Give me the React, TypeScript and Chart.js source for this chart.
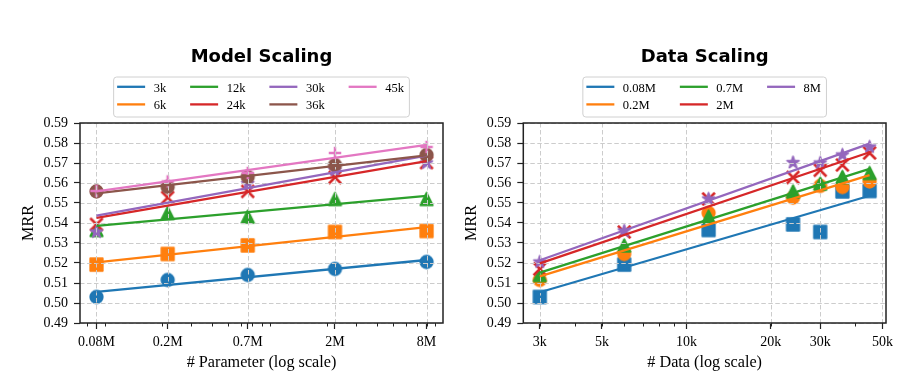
import React, { useEffect, useRef } from "react";
import { Chart, registerables } from "chart.js";
Chart.register(...registerables);

// ---------- data ----------
const paramLabels = ["0.08M", "0.2M", "0.7M", "2M", "8M"];
const paramCounts = [80e3, 216e3, 660e3, 2.23e6, 8e6];
const paramMinorTicks = [7e4, 8e4, 9e4, 2e5, 3e5, 4e5, 5e5, 6e5, 7e5, 8e5, 9e5, 2e6, 3e6, 4e6, 5e6, 6e6, 7e6, 8e6, 9e6];
const paramAxisMin = 63.55e3;
const paramAxisMax = 10.07e6;

const dataLabels = ["3k", "6k", "12k", "24k", "30k", "36k", "45k"];
const dataCounts = [3e3, 6e3, 12e3, 24e3, 30e3, 36e3, 45e3];
const dataTickValues = [3e3, 5e3, 10e3, 20e3, 30e3, 50e3];
const dataTickLabels = ["3k", "5k", "10k", "20k", "30k", "50k"];
const dataMinorTicks = [3e3, 4e3, 5e3, 6e3, 7e3, 8e3, 9e3, 2e4, 3e4, 4e4, 5e4];
const dataAxisMin = 2.62e3;
const dataAxisMax = 51.5e3;

const yTickValues = [0.49, 0.5, 0.51, 0.52, 0.53, 0.54, 0.55, 0.56, 0.57, 0.58, 0.59];

// MRR for each training-data size, across parameter sizes (0.08M, 0.2M, 0.7M, 2M, 8M)
const mrr3k = [0.503, 0.5115, 0.514, 0.517, 0.5205];
const mrr6k = [0.5192, 0.5245, 0.5288, 0.5355, 0.536];
const mrr12k = [0.5365, 0.545, 0.5432, 0.552, 0.552];
const mrr24k = [0.5393, 0.5527, 0.5558, 0.5628, 0.5702];
const mrr30k = [0.5355, 0.5585, 0.5597, 0.5664, 0.57];
const mrr36k = [0.5558, 0.558, 0.563, 0.569, 0.574];
const mrr45k = [0.556, 0.5608, 0.565, 0.575, 0.578];

const mrrByData = [mrr3k, mrr6k, mrr12k, mrr24k, mrr30k, mrr36k, mrr45k];
const mrrByParam = paramLabels.map((_, p) => mrrByData.map((row) => row[p]));

const tab10 = ["#1f77b4", "#ff7f0e", "#2ca02c", "#d62728", "#9467bd", "#8c564b", "#e377c2"];
const modelMarkers = ["circle", "square", "triangle", "x", "star", "circle", "plus"];
const dataMarkers = ["square", "circle", "triangle", "x", "star"];

// ---------- helpers ----------
const SERIF = '"Liberation Serif", "Times New Roman", serif';
const SANS = '"DejaVu Sans", sans-serif';
const INK = "#222222";

function makeMarker(shape: string, color: string): HTMLCanvasElement {
  const S = 12.5;
  const lw = shape === "x" || shape === "plus" ? 2.5 : 1.8;
  const dim = Math.ceil(S + lw * 2 + 2);
  const c = document.createElement("canvas");
  c.width = dim;
  c.height = dim;
  const ctx = c.getContext("2d")!;
  const cx = dim / 2, cy = dim / 2, h = S / 2;
  ctx.fillStyle = color;
  ctx.strokeStyle = color;
  ctx.lineWidth = lw;
  ctx.lineJoin = "round";
  ctx.beginPath();
  if (shape === "circle") {
    ctx.arc(cx, cy, h, 0, Math.PI * 2);
    ctx.fill();
    ctx.stroke();
  } else if (shape === "square") {
    ctx.rect(cx - h, cy - h, S, S);
    ctx.fill();
    ctx.stroke();
  } else if (shape === "triangle") {
    ctx.moveTo(cx, cy - h);
    ctx.lineTo(cx - h, cy + h);
    ctx.lineTo(cx + h, cy + h);
    ctx.closePath();
    ctx.fill();
    ctx.stroke();
  } else if (shape === "star") {
    const ri = h * 0.381966;
    for (let k = 0; k < 10; k++) {
      const r = k % 2 === 0 ? h : ri;
      const a = -Math.PI / 2 + (k * Math.PI) / 5;
      const px = cx + r * Math.cos(a), py = cy + r * Math.sin(a);
      if (k === 0) ctx.moveTo(px, py);
      else ctx.lineTo(px, py);
    }
    ctx.closePath();
    ctx.fill();
    ctx.stroke();
  } else if (shape === "x") {
    ctx.moveTo(cx - h, cy - h);
    ctx.lineTo(cx + h, cy + h);
    ctx.moveTo(cx + h, cy - h);
    ctx.lineTo(cx - h, cy + h);
    ctx.stroke();
  } else if (shape === "plus") {
    ctx.moveTo(cx - h, cy);
    ctx.lineTo(cx + h, cy);
    ctx.moveTo(cx, cy - h);
    ctx.lineTo(cx, cy + h);
    ctx.stroke();
  }
  return c;
}

function fitLine(xs: number[], ys: number[]) {
  const lx = xs.map((x) => Math.log10(x));
  const n = lx.length;
  const mx = lx.reduce((a, b) => a + b, 0) / n;
  const my = ys.reduce((a, b) => a + b, 0) / n;
  let sxy = 0, sxx = 0;
  for (let i = 0; i < n; i++) {
    sxy += (lx[i] - mx) * (ys[i] - my);
    sxx += (lx[i] - mx) * (lx[i] - mx);
  }
  const slope = sxy / sxx;
  const b = my - slope * mx;
  return [
    { x: xs[0], y: b + slope * lx[0] },
    { x: xs[n - 1], y: b + slope * lx[n - 1] },
  ];
}

type PanelCfg = {
  title: string;
  xTitle: string;
  labels: string[];
  series: number[][];
  xs: number[];
  markers: string[];
  xMin: number;
  xMax: number;
  xTicks: number[];
  xTickLabels: string[];
  xMinor: number[];
  yAxisWidth: number;
  padRight: number;
  ncol: number;
};

function buildConfig(cfg: PanelCfg): any {
  const datasets: any[] = [];
  cfg.series.forEach((ys, i) => {
    datasets.push({
      type: "scatter",
      label: cfg.labels[i],
      data: cfg.xs.map((x, j) => ({ x, y: ys[j] })),
      pointStyle: makeMarker(cfg.markers[i], tab10[i]),
      pointRadius: 7,
      pointHoverRadius: 7,
      showLine: false,
      order: 100 - i,
      isFit: false,
    });
  });
  cfg.series.forEach((ys, i) => {
    datasets.push({
      type: "line",
      label: cfg.labels[i],
      data: fitLine(cfg.xs, ys),
      borderColor: tab10[i],
      borderWidth: 2.3,
      pointRadius: 0,
      pointHoverRadius: 0,
      fill: false,
      tension: 0,
      order: 50 - i,
      isFit: true,
    });
  });

  const decor = {
    id: "decor",
    beforeDatasetsDraw(chart: any) {
      chart._gridDone = false;
    },
    beforeDatasetDraw(chart: any, args: any) {
      const ds: any = chart.data.datasets[args.index];
      if (ds.isFit && !chart._gridDone) {
        chart._gridDone = true;
        const ctx = chart.ctx, ca = chart.chartArea;
        const xs = chart.scales.x, ys = chart.scales.y;
        ctx.save();
        ctx.strokeStyle = "#cccccc";
        ctx.lineWidth = 1;
        ctx.setLineDash([4.5, 2.5]);
        cfg.xTicks.forEach((v) => {
          const px = Math.round(xs.getPixelForValue(v)) + 0.5;
          ctx.beginPath();
          ctx.moveTo(px, ca.top);
          ctx.lineTo(px, ca.bottom);
          ctx.stroke();
        });
        yTickValues.forEach((v) => {
          const py = Math.round(ys.getPixelForValue(v)) + 0.5;
          ctx.beginPath();
          ctx.moveTo(ca.left, py);
          ctx.lineTo(ca.right, py);
          ctx.stroke();
        });
        ctx.restore();
      }
    },
    afterDraw(chart: any) {
      const ctx = chart.ctx, ca = chart.chartArea;
      const xs = chart.scales.x;
      ctx.save();
      // frame
      ctx.strokeStyle = INK;
      ctx.lineWidth = 1.5;
      ctx.strokeRect(ca.left, ca.top, ca.right - ca.left, ca.bottom - ca.top);
      // minor ticks
      ctx.lineWidth = 1;
      cfg.xMinor.forEach((v) => {
        if (v < cfg.xMin || v > cfg.xMax) return;
        const px = Math.round(xs.getPixelForValue(v)) + 0.5;
        ctx.beginPath();
        ctx.moveTo(px, ca.bottom);
        ctx.lineTo(px, ca.bottom + 3.5);
        ctx.stroke();
      });
      const cx = (ca.left + ca.right) / 2;
      const cy = (ca.top + ca.bottom) / 2;
      // title
      ctx.fillStyle = "#000";
      ctx.font = `bold 18px ${SANS}`;
      ctx.textAlign = "center";
      ctx.textBaseline = "alphabetic";
      ctx.fillText(cfg.title, cx, 61.7);
      // x title
      ctx.font = `16.2px ${SERIF}`;
      ctx.fillText(cfg.xTitle, cx, 366.5);
      // y title
      ctx.save();
      ctx.translate(ca.left - 47.1, cy);
      ctx.rotate(-Math.PI / 2);
      ctx.fillText("MRR", 0, 0);
      ctx.restore();
      // legend
      ctx.font = `12.5px ${SERIF}`;
      const n = cfg.labels.length;
      const nrows = Math.ceil(n / cfg.ncol);
      const handleLen = 28, handleGap = 8.5, colSpacing = 24, padL = 3.5, padR = 5.5;
      const colW: number[] = [];
      for (let c = 0; c < cfg.ncol; c++) {
        const items = cfg.labels.slice(c * nrows, (c + 1) * nrows);
        const w = Math.max(...items.map((t) => ctx.measureText(t).width));
        colW.push(handleLen + handleGap + w);
      }
      const total = padL + colW.reduce((a, b) => a + b, 0) + (cfg.ncol - 1) * colSpacing + padR;
      const bx = cx - total / 2, by = 77, bh = 40;
      ctx.beginPath();
      ctx.roundRect(bx, by, total, bh, 3);
      ctx.fillStyle = "rgba(255,255,255,0.85)";
      ctx.fill();
      ctx.strokeStyle = "#d0d0d0";
      ctx.lineWidth = 1;
      ctx.stroke();
      const rowY = [86.8, 104.4];
      let x0 = bx + padL;
      for (let c = 0; c < cfg.ncol; c++) {
        for (let r = 0; r < nrows; r++) {
          const k = c * nrows + r;
          if (k >= n) break;
          const y = rowY[r];
          ctx.strokeStyle = tab10[k];
          ctx.lineWidth = 2.3;
          ctx.beginPath();
          ctx.moveTo(x0, y);
          ctx.lineTo(x0 + handleLen, y);
          ctx.stroke();
          ctx.fillStyle = "#000";
          ctx.textAlign = "left";
          ctx.fillText(cfg.labels[k], x0 + handleLen + handleGap, y + 4.7);
        }
        x0 += colW[c] + colSpacing;
      }
      ctx.restore();
    },
  };

  return {
    type: "scatter",
    data: { datasets },
    plugins: [decor],
    options: {
      responsive: false,
      animation: false,
      events: [],
      layout: { padding: { top: 123, left: 0, right: cfg.padRight, bottom: 0 } },
      plugins: { legend: { display: false }, title: { display: false }, tooltip: { enabled: false } },
      scales: {
        x: {
          type: "logarithmic",
          bounds: "data",
          min: cfg.xMin,
          max: cfg.xMax,
          afterBuildTicks: (s: any) => {
            s.ticks = cfg.xTicks.map((v) => ({ value: v }));
          },
          afterFit: (s: any) => {
            s.height = 69;
          },
          ticks: {
            callback: (_v: any, i: number) => cfg.xTickLabels[i],
            font: { family: SERIF, size: 14 },
            color: "#000",
            maxRotation: 0,
            minRotation: 0,
            autoSkip: false,
            padding: 5,
          },
          grid: { drawOnChartArea: false, drawTicks: true, tickLength: 6, tickColor: INK, tickWidth: 1.2 },
          border: { display: false },
        },
        y: {
          type: "linear",
          min: 0.49,
          max: 0.59,
          afterBuildTicks: (s: any) => {
            s.ticks = yTickValues.map((v) => ({ value: v }));
          },
          afterFit: (s: any) => {
            s.width = cfg.yAxisWidth;
          },
          ticks: {
            callback: (v: any) => Number(v).toFixed(2),
            font: { family: SERIF, size: 14 },
            color: "#000",
            padding: 6,
          },
          grid: { drawOnChartArea: false, drawTicks: true, tickLength: 6, tickColor: INK, tickWidth: 1.2 },
          border: { display: false },
        },
      },
    },
  };
}

const modelCfg: PanelCfg = {
  title: "Model Scaling",
  xTitle: "# Parameter (log scale)",
  labels: dataLabels,
  series: mrrByData,
  xs: paramCounts,
  markers: modelMarkers,
  xMin: paramAxisMin,
  xMax: paramAxisMax,
  xTicks: paramCounts,
  xTickLabels: paramLabels,
  xMinor: paramMinorTicks,
  yAxisWidth: 80,
  padRight: 13,
  ncol: 4,
};

const dataCfg: PanelCfg = {
  title: "Data Scaling",
  xTitle: "# Data (log scale)",
  labels: paramLabels,
  series: mrrByParam,
  xs: dataCounts,
  markers: dataMarkers,
  xMin: dataAxisMin,
  xMax: dataAxisMax,
  xTicks: dataTickValues,
  xTickLabels: dataTickLabels,
  xMinor: dataMinorTicks,
  yAxisWidth: 67.3,
  padRight: 27,
  ncol: 3,
};

function Panel({ cfg, width }: { cfg: PanelCfg; width: number }) {
  const ref = useRef<HTMLCanvasElement>(null);
  useEffect(() => {
    const chart = new Chart(ref.current!, buildConfig(cfg));
    return () => chart.destroy();
  }, []);
  return <canvas ref={ref} width={width} height={392} style={{ display: "block", width, height: 392 }} />;
}

export default function App() {
  return (
    <div style={{ position: "absolute", left: 0, top: 0, width: 913, height: 392, display: "flex", background: "#fff" }}>
      <Panel cfg={modelCfg} width={456} />
      <Panel cfg={dataCfg} width={457} />
    </div>
  );
}
